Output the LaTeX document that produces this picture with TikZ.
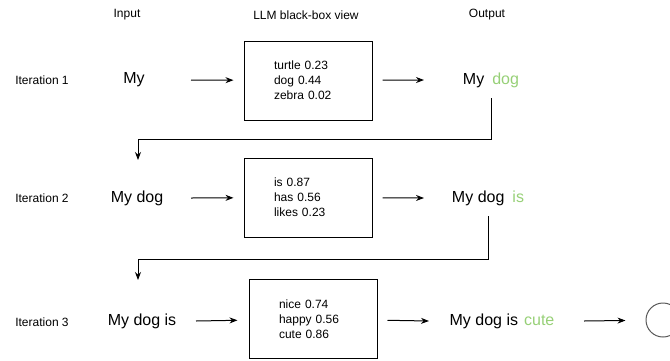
\documentclass[tikz,border=0pt]{standalone}
\usepackage{fontspec}
\setmainfont{Liberation Sans}
\usetikzlibrary{arrows.meta}
\definecolor{tokgreen}{HTML}{97D077}
\begin{document}
\begin{tikzpicture}[x=1pt,y=-1pt,
  small/.style={font=\fontsize{12}{15}\selectfont, inner sep=0pt},
  big/.style={font=\fontsize{16}{19}\selectfont, inner sep=0pt, minimum height=36pt},
  llmbox/.style={draw, line width=1pt, minimum height=79pt, text width=68pt,
                 inner xsep=30pt, align=left, font=\fontsize{12}{15}\selectfont},
  arr/.style={-{Stealth[length=8pt,width=6pt]}, line width=1pt},
  grn/.style={color=tokgreen}]
\useasboundingbox (0,0) rectangle (670,360);

% headers
\node[small] (hin)  at (127,15) {Input};
\node[small] (hllm) at (306,15) {LLM black-box view};
\node[small] (hout) at (487,15) {Output};

% iteration labels
\node[small] (it1) at (42,80)  {Iteration 1};
\node[small] (it2) at (42,198) {Iteration 2};
\node[small] (it3) at (42,322) {Iteration 3};

% row 1
\node[big] (i1) at (134,80) {My};
\node[llmbox] (bx1) at (308,80.5) {turtle 0.23\\dog 0.44\\zebra 0.02};
\node[big] (o1) at (491,80) {My\hspace{8pt}\textcolor{tokgreen}{dog}};
\coordinate (r1a) at (191,80);
\coordinate (r1b) at (424,80);
\draw[arr, shorten >=10pt] (r1a) -- (bx1);
\draw[arr, shorten <=10pt] (bx1) -- (r1b);

% row 2
\node[big] (i2) at (137,198) {My dog};
\node[llmbox] (bx2) at (308,197.5) {is 0.87\\has 0.56\\likes 0.23};
\node[big] (o2) at (488,198) {My dog\hspace{8pt}\textcolor{tokgreen}{is}};
\coordinate (r2a) at (191,198);
\coordinate (r2b) at (424,198);
\draw[arr, shorten >=10pt] (r2a) -- (bx2);
\draw[arr, shorten <=10pt] (bx2) -- (r2b);

% row 3
\node[big] (i3) at (142,321) {My dog is};
\node[llmbox] (bx3) at (313,319) {nice 0.74\\happy 0.56\\cute 0.86};
\node[big] (o3) at (502,321) {My dog is\hspace{6pt}\textcolor{tokgreen}{cute}};
\node[draw=black!65, line width=1pt, circle, minimum size=34pt, inner sep=0pt] (circ) at (663,320) {};
\coordinate (r3a) at (196,321);
\coordinate (r3b) at (429,321);
\coordinate (r3c) at (584,321);
\draw[arr, shorten >=11pt] (r3a) -- (bx3);
\draw[arr, shorten <=10pt] (bx3) -- (r3b);
\draw[arr, shorten >=20pt] (r3c) -- (circ);

% feedback connectors
\coordinate (y1) at (0,139);
\coordinate (t2) at (138,160);
\draw[arr, line width=0.9pt] (o1.south) -- (o1.south |- y1) -| (t2);
\coordinate (y2) at (0,259);
\coordinate (t3) at (138,280);
\draw[arr, line width=0.9pt] (o2.south) -- (o2.south |- y2) -| (t3);
\end{tikzpicture}
\end{document}
